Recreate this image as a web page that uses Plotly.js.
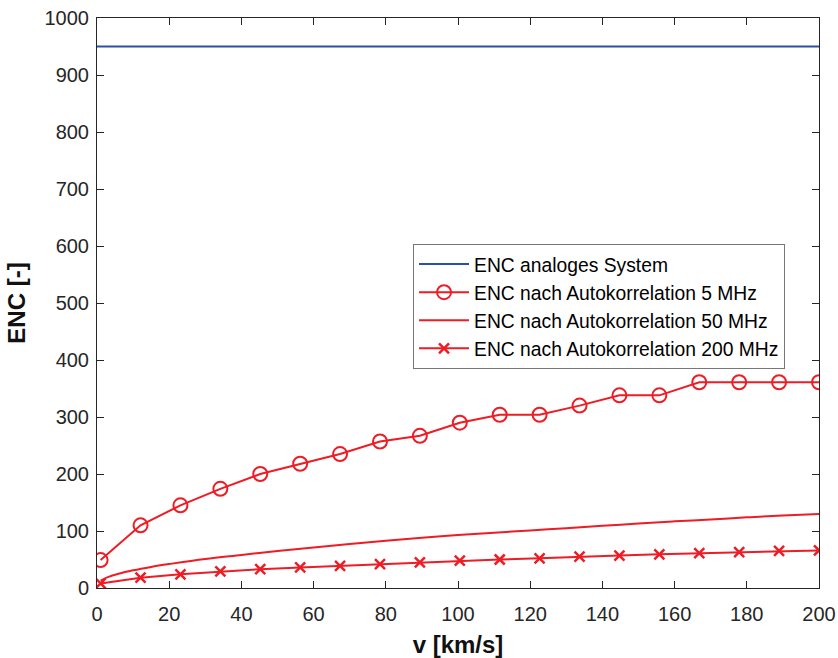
<!DOCTYPE html>
<html>
<head>
<meta charset="utf-8">
<script src="https://cdn.plot.ly/plotly-3.0.1.min.js"></script>
<style>html,body{margin:0;padding:0;background:#fff;}#chart{width:838px;height:658px;}</style>
</head>
<body>
<div id="chart"></div>
<script>
// Data
const vAnalog = [0, 200];
const encAnalog = [950, 950];

const vMarkers = [1, 12.06, 23.11, 34.17, 45.22, 56.28, 67.33, 78.39, 89.44, 100.5, 111.56, 122.61, 133.67, 144.72, 155.78, 166.83, 177.89, 188.94, 200];
const enc5MHz = [49, 110, 145, 174, 200, 218, 235, 257, 267, 290, 304, 304, 320, 338, 338, 361, 361, 361, 361];

const v50 = [1, 3, 6, 10, 15, 20, 30, 40, 50, 60, 70, 80, 90, 100, 110, 120, 130, 140, 150, 160, 170, 180, 190, 200];
const enc50MHz = [13, 19, 25, 31, 37, 42, 51, 58, 65, 71, 77, 83, 88, 93, 97, 101, 105, 109, 113, 117, 120, 124, 127, 130];

const enc200MHz = [8, 18, 24, 29, 33, 36, 39, 42, 45, 48, 50, 52, 55, 57, 59, 61, 63, 65, 66];

const names = ['ENC analoges System', 'ENC nach Autokorrelation 5 MHz', 'ENC nach Autokorrelation 50 MHz', 'ENC nach Autokorrelation 200 MHz'];
const xTicks = [0, 20, 40, 60, 80, 100, 120, 140, 160, 180, 200];
const yTicks = [0, 100, 200, 300, 400, 500, 600, 700, 800, 900, 1000];

const red = '#ee1c25';
const blue = '#2b4ea8';
const font = 'Liberation Sans, Arial, sans-serif';

const traces = [
  {x: vAnalog, y: encAnalog, name: names[0], mode: 'lines', line: {color: blue, width: 2}},
  {x: vMarkers, y: enc5MHz, name: names[1], mode: 'lines+markers', line: {color: red, width: 2},
   marker: {symbol: 'circle-open', size: 14, color: red, line: {width: 2, color: red}}},
  {x: v50, y: enc50MHz, name: names[2], mode: 'lines', line: {color: red, width: 2, shape: 'spline'}},
  {x: vMarkers, y: enc200MHz, name: names[3], mode: 'lines+markers', line: {color: red, width: 2},
   marker: {symbol: 'x-thin-open', size: 10, color: red, line: {width: 2.5, color: red}}}
];

const axisCommon = {
  showgrid: false, zeroline: false, showline: true, linecolor: '#262626', linewidth: 1,
  mirror: 'ticks', ticks: 'inside', ticklen: 7, tickwidth: 1, tickcolor: '#262626',
  tickfont: {family: font, size: 20, color: '#262626'}
};

const layout = {
  width: 838, height: 658,
  margin: {l: 97, r: 19, t: 18, b: 70},
  paper_bgcolor: '#fff', plot_bgcolor: '#fff',
  showlegend: true,
  xaxis: Object.assign({}, axisCommon, {
    range: [0, 200], tickvals: xTicks, ticktext: xTicks.map(String),
    ticklabelstandoff: 8,
    title: {text: 'v [km/s]', standoff: 12, font: {family: font, size: 24, color: '#111', weight: 'bold'}}
  }),
  yaxis: Object.assign({}, axisCommon, {
    range: [0, 1000], tickvals: yTicks, ticktext: yTicks.map(String),
    ticklabelstandoff: 3,
    title: {text: 'ENC [-]', standoff: 12, font: {family: font, size: 24, color: '#111', weight: 'bold'}}
  }),
  legend: {
    x: 0.4377, y: 0.6035, xanchor: 'left', yanchor: 'top',
    bgcolor: '#fff', bordercolor: '#777', borderwidth: 1,
    font: {family: font, size: 19.3, color: '#000'},
    itemwidth: 50, tracegroupgap: 0
  }
};

Plotly.newPlot('chart', traces, layout, {staticPlot: true, displayModeBar: false});
</script>
</body>
</html>
